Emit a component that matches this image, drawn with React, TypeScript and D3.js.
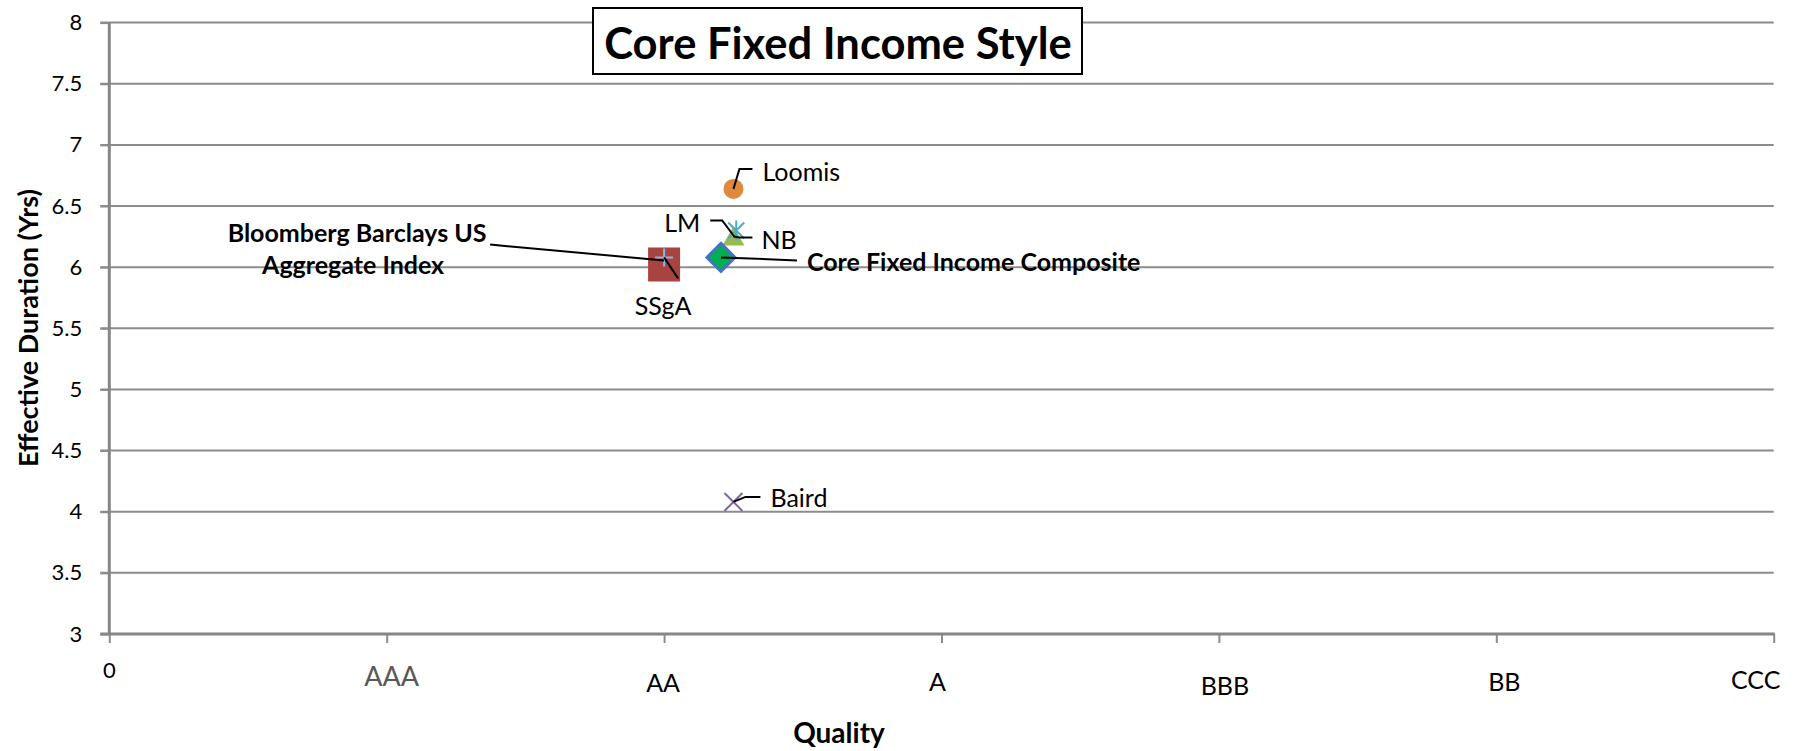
import React, { useEffect, useRef } from 'react';
import * as d3 from 'd3';

// quality buckets along the x axis (0 = origin)
const qualityLabels = ['0', 'AAA', 'AA', 'A', 'BBB', 'BB', 'CCC'];
const durationTicks = [3, 3.5, 4, 4.5, 5, 5.5, 6, 6.5, 7, 7.5, 8];

const managers = ['Loomis', 'LM', 'NB', 'Core Fixed Income Composite', 'Bloomberg Barclays US Aggregate Index', 'SSgA', 'Baird'];
const quality = [2.25, 2.26, 2.25, 2.205, 2.0, 2.0, 2.25];
const duration = [6.64, 6.3, 6.25, 6.08, 6.03, 6.08, 4.08];

type Marker = 'circle' | 'star' | 'triangle' | 'diamond' | 'square' | 'plus' | 'x';

const markers: Marker[] = ['circle', 'star', 'triangle', 'diamond', 'square', 'plus', 'x'];
const fills = ['#df893d', '#4bacc6', '#98b954', '#00b050', '#a9433f', '#8eb4e3', '#8064a2'];

// label placement relative to the marker (leader points, text anchor point)
const labelLayout: { leader: [number, number][]; tx: number; ty: number; anchor: string; bold?: boolean; lines?: [number, number][] }[] = [
  { leader: [[0, 0], [6, -20], [19, -20]], tx: 29, ty: -18, anchor: 'start' },
  { leader: [[-26, -10], [-14, -10], [-2, 6]], tx: -36, ty: -8, anchor: 'end' },
  { leader: [[0, 0], [6, 1], [19, 1]], tx: 28, ty: 2, anchor: 'start' },
  { leader: [[0, 0], [76, 3]], tx: 86, ty: 4, anchor: 'start', bold: true },
  { leader: [[-174, -19], [-164, -18], [0, -3]], tx: -307, ty: -31, anchor: 'middle', bold: true, lines: [[-307, -31], [-311, 1]] },
  { leader: [[0, 0], [14, 21]], tx: -1, ty: 48, anchor: 'middle' },
  { leader: [[0, 0], [12, -5], [27, -5]], tx: 37, ty: -5, anchor: 'start' },
];

// tick label nudges (Excel data-label style, slightly staggered)
const catNudgeX = [0, 5, -1, -4, 6, 8, -18];
const catNudgeY = [35, 41, 48, 47, 51, 47, 45];

const W = 1794;
const H = 751;
const FONT = 'Lato, "Open Sans", sans-serif';

const App: React.FC = () => {
  const svgRef = useRef<SVGSVGElement>(null);

  useEffect(() => {
    if (!svgRef.current) return;
    const svg = d3.select(svgRef.current);
    svg.selectAll('*').remove();

    const left = 109.3;
    const right = 1773.7;
    const top = 22.6;
    const bottom = 634;

    const x = d3.scaleLinear().domain([0, 6]).range([left, right]);
    const y = d3.scaleLinear().domain([3, 8]).range([bottom, top]);

    svg.append('rect').attr('width', W).attr('height', H).attr('fill', '#fff');

    // gridlines
    svg.append('g')
      .selectAll('line')
      .data(durationTicks.slice(1))
      .join('line')
      .attr('x1', left - 9)
      .attr('x2', right)
      .attr('y1', d => y(d))
      .attr('y2', d => y(d))
      .attr('stroke', '#8c8c8c')
      .attr('stroke-width', 2);

    // y axis
    svg.append('g')
      .attr('transform', `translate(${left},0)`)
      .call(d3.axisLeft(y).tickValues(durationTicks).tickSize(9).tickFormat(d => String(d)))
      .call(g => g.select('.domain').remove())
      .call(g => g.selectAll('.tick line').attr('stroke', '#8c8c8c').attr('stroke-width', 2))
      .call(g => g.selectAll('.tick text')
        .attr('x', -27)
        .attr('fill', '#000')
        .attr('font-family', FONT)
        .attr('font-size', 22));

    svg.append('line')
      .attr('x1', left).attr('x2', left)
      .attr('y1', top).attr('y2', bottom + 1)
      .attr('stroke', '#868686').attr('stroke-width', 3);

    // x axis
    svg.append('g')
      .attr('transform', `translate(0,${bottom})`)
      .call(d3.axisBottom(x).ticks(6).tickSize(9).tickFormat(() => ''))
      .call(g => g.select('.domain').remove())
      .call(g => g.selectAll('.tick line').attr('stroke', '#8c8c8c').attr('stroke-width', 2));

    svg.append('line')
      .attr('x1', left - 9).attr('x2', right + 1)
      .attr('y1', bottom).attr('y2', bottom)
      .attr('stroke', '#868686').attr('stroke-width', 3);

    svg.append('g')
      .selectAll('text')
      .data(qualityLabels)
      .join('text')
      .attr('x', (d, i) => x(i) + catNudgeX[i])
      .attr('y', (d, i) => bottom + catNudgeY[i])
      .attr('text-anchor', 'middle')
      .attr('dominant-baseline', 'central')
      .attr('font-family', FONT)
      .attr('font-size', (d, i) => (i === 1 ? 27 : i === 0 ? 22 : 25))
      .attr('fill', (d, i) => (i === 1 ? '#595959' : '#000'))
      .text(d => d);

    // axis titles
    svg.append('text')
      .attr('x', 839)
      .attr('y', 732)
      .attr('text-anchor', 'middle')
      .attr('dominant-baseline', 'central')
      .attr('font-family', FONT)
      .attr('font-weight', 700)
      .attr('font-size', 28)
      .text('Quality');

    svg.append('text')
      .attr('transform', 'translate(27,328) rotate(-90)')
      .attr('text-anchor', 'middle')
      .attr('dominant-baseline', 'central')
      .attr('font-family', FONT)
      .attr('font-weight', 700)
      .attr('font-size', 27)
      .text('Effective Duration (Yrs)');

    // title box
    svg.append('rect')
      .attr('x', 593).attr('y', 8)
      .attr('width', 489).attr('height', 66)
      .attr('fill', '#fff')
      .attr('stroke', '#000')
      .attr('stroke-width', 2);

    svg.append('text')
      .attr('x', 838)
      .attr('y', 42)
      .attr('text-anchor', 'middle')
      .attr('dominant-baseline', 'central')
      .attr('font-family', FONT)
      .attr('font-weight', 700)
      .attr('font-size', 43.5)
      .text('Core Fixed Income Style');

    // markers
    const pts = svg.append('g');
    managers.forEach((name, i) => {
      const cx = x(quality[i]);
      const cy = y(duration[i]);
      const m = pts.append('g').attr('transform', `translate(${cx},${cy})`);
      const c = fills[i];
      switch (markers[i]) {
        case 'circle':
          m.append('circle').attr('r', 10).attr('fill', c);
          break;
        case 'triangle':
          m.append('path').attr('d', 'M0,-10L11,9L-11,9Z').attr('fill', c);
          break;
        case 'star':
          m.append('path').attr('d', 'M-8,-8L8,8M-8,8L8,-8M0,-10L0,10')
            .attr('stroke', c).attr('stroke-width', 2).attr('fill', 'none');
          break;
        case 'diamond':
          m.append('path').attr('d', 'M0,-14L14,0L0,14L-14,0Z')
            .attr('fill', c).attr('stroke', '#4472c4').attr('stroke-width', 3);
          break;
        case 'square':
          m.append('rect').attr('x', -16).attr('y', -16).attr('width', 32).attr('height', 34).attr('fill', c);
          break;
        case 'plus':
          m.append('path').attr('d', 'M-9,0L9,0M0,-9L0,9')
            .attr('stroke', c).attr('stroke-width', 2).attr('fill', 'none');
          break;
        case 'x':
          m.append('path').attr('d', 'M-9,-9L9,9M-9,9L9,-9')
            .attr('stroke', c).attr('stroke-width', 2).attr('fill', 'none');
          break;
      }
    });

    // Excel draw order: triangle below star, square below plus
    const order = [0, 2, 1, 3, 4, 5, 6];
    const groups = pts.selectAll<SVGGElement, unknown>('g').nodes();
    order.forEach(k => pts.node()!.appendChild(groups[k]));

    // data labels with leader lines
    const labels = svg.append('g');
    managers.forEach((name, i) => {
      const cx = x(quality[i]);
      const cy = y(duration[i]);
      const lay = labelLayout[i];
      labels.append('path')
        .attr('d', d3.line()(lay.leader.map(([dx, dy]) => [cx + dx, cy + dy])))
        .attr('fill', 'none')
        .attr('stroke', '#000')
        .attr('stroke-width', 2);

      const lines = lay.lines ? ['Bloomberg Barclays US', 'Aggregate Index'] : [name];
      const pos = lay.lines ?? [[lay.tx, lay.ty]];
      lines.forEach((t, k) => {
        labels.append('text')
          .attr('x', cx + pos[k][0])
          .attr('y', cy + pos[k][1])
          .attr('text-anchor', lay.anchor)
          .attr('dominant-baseline', 'central')
          .attr('font-family', FONT)
          .attr('font-weight', lay.bold ? 700 : 400)
          .attr('font-size', 25)
          .text(t);
      });
    });
  }, []);

  return <svg ref={svgRef} width={W} height={H} style={{ position: 'absolute', left: 0, top: 0 }} />;
};

export default App;
